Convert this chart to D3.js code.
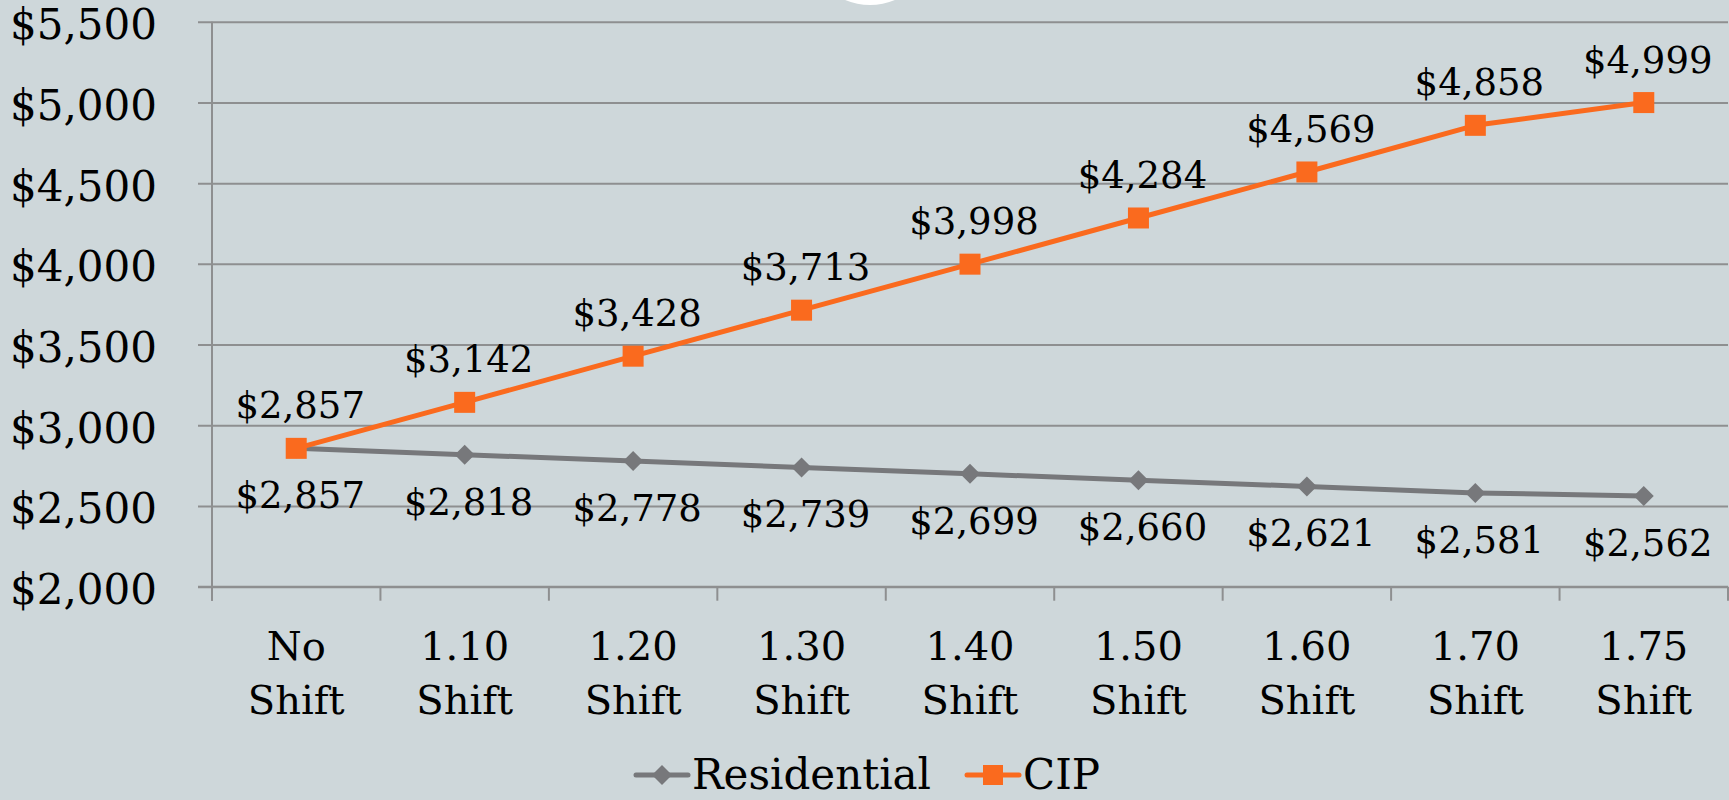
<!DOCTYPE html>
<html>
<head>
<meta charset="utf-8">
<script src="https://cdn.jsdelivr.net/npm/d3@7"></script>
<style>
  html, body { margin: 0; padding: 0; background: #CED7DA; }
  svg { display: block; }
  text { font-family: Georgia, "DejaVu Serif", serif; fill: #000; }
</style>
</head>
<body>
<svg id="chart" width="1729" height="800"></svg>
<script>
const categories = [["No", "Shift"], ["1.10", "Shift"], ["1.20", "Shift"], ["1.30", "Shift"], ["1.40", "Shift"], ["1.50", "Shift"], ["1.60", "Shift"], ["1.70", "Shift"], ["1.75", "Shift"]];
const residential = [2857, 2818, 2778, 2739, 2699, 2660, 2621, 2581, 2562];
const cip = [2857, 3142, 3428, 3713, 3998, 4284, 4569, 4858, 4999];
const yTicks = [2000, 2500, 3000, 3500, 4000, 4500, 5000, 5500];
const seriesNames = ["Residential", "CIP"];

const colors = { Residential: "#77787B", CIP: "#FA6A1E" };
const gridColor = "#8E8F90";

const svg = d3.select("#chart");
const pLeft = 212, pRight = 1728, pTop = 21.7, pBottom = 586.7;

const x = d3.scaleBand().domain(d3.range(categories.length)).range([pLeft, pRight]).padding(0);
const y = d3.scaleLinear().domain([2000, 5500]).range([pBottom, pTop]);
const cx = i => x(i) + x.bandwidth() / 2;
const fmt = v => "$" + d3.format(",")(v);

// white partial circle at top
svg.append("circle").attr("cx", 870).attr("cy", -60).attr("r", 65).attr("fill", "#FFFFFF");

// gridlines + y-axis ticks
const yAxis = d3.axisLeft(y).tickValues(yTicks).tickSize(-(pRight - pLeft)).tickFormat(fmt).tickPadding(0);
const gy = svg.append("g").attr("transform", `translate(${pLeft},0)`).call(yAxis);
gy.select(".domain").remove();
gy.selectAll(".tick line").attr("x1", -14).attr("stroke", gridColor).attr("stroke-width", 2);
gy.selectAll(".tick text")
  .attr("x", -(pLeft - 157)).attr("dy", null).attr("y", 17)
  .attr("text-anchor", "end").attr("fill", "#000").style("font-size", "42px")
  .style("font-family", 'Georgia, "DejaVu Serif", serif');

// vertical axis line
svg.append("line").attr("x1", pLeft).attr("x2", pLeft).attr("y1", pTop).attr("y2", pBottom + 14)
  .attr("stroke", gridColor).attr("stroke-width", 2);

// x axis with boundary ticks
svg.append("line").attr("x1", pLeft - 14).attr("x2", pRight).attr("y1", pBottom).attr("y2", pBottom)
  .attr("stroke", gridColor).attr("stroke-width", 2);
const boundaries = d3.range(categories.length + 1).map(i => pLeft + i * x.bandwidth());
svg.append("g").selectAll("line").data(boundaries).join("line")
  .attr("x1", d => d).attr("x2", d => d).attr("y1", pBottom).attr("y2", pBottom + 14)
  .attr("stroke", gridColor).attr("stroke-width", 2);

// x labels
const xl = svg.append("g").selectAll("text").data(categories).join("text")
  .attr("text-anchor", "middle").style("font-size", "40px");
xl.append("tspan").attr("x", (d, i) => cx(i)).attr("y", 660).text(d => d[0]);
xl.append("tspan").attr("x", (d, i) => cx(i)).attr("y", 714).text(d => d[1]);

const line = d3.line().x((d, i) => cx(i)).y(d => y(d));

// Residential
svg.append("path").datum(residential).attr("d", line)
  .attr("fill", "none").attr("stroke", colors.Residential).attr("stroke-width", 5).attr("stroke-linejoin", "round");
svg.append("g").selectAll("path").data(residential).join("path")
  .attr("d", d3.symbol().type(d3.symbolSquare).size(200))
  .attr("transform", (d, i) => `translate(${cx(i)},${y(d)}) rotate(45)`)
  .attr("fill", colors.Residential);

// CIP
svg.append("path").datum(cip).attr("d", line)
  .attr("fill", "none").attr("stroke", colors.CIP).attr("stroke-width", 5).attr("stroke-linejoin", "round");
svg.append("g").selectAll("rect").data(cip).join("rect")
  .attr("x", (d, i) => cx(i) - 10.5).attr("y", d => y(d) - 10.5)
  .attr("width", 21).attr("height", 21).attr("fill", colors.CIP);

// data labels
svg.append("g").selectAll("text").data(cip).join("text")
  .attr("x", (d, i) => cx(i) + 4).attr("y", d => y(d) - 30)
  .attr("text-anchor", "middle").style("font-size", "37px").text(fmt);
svg.append("g").selectAll("text").data(residential).join("text")
  .attr("x", (d, i) => cx(i) + 4).attr("y", d => y(d) + 60)
  .attr("text-anchor", "middle").style("font-size", "37px").text(fmt);

// legend
const lg = svg.append("g");
const ly = 775;
lg.append("line").attr("x1", 636).attr("x2", 688).attr("y1", ly).attr("y2", ly)
  .attr("stroke", colors.Residential).attr("stroke-width", 5).attr("stroke-linecap", "round");
lg.append("path").attr("d", d3.symbol().type(d3.symbolSquare).size(200))
  .attr("transform", `translate(662,${ly}) rotate(45)`).attr("fill", colors.Residential);
lg.append("text").attr("x", 692).attr("y", 789).style("font-size", "42px").text(seriesNames[0]);
lg.append("line").attr("x1", 967).attr("x2", 1019).attr("y1", ly).attr("y2", ly)
  .attr("stroke", colors.CIP).attr("stroke-width", 5).attr("stroke-linecap", "round");
lg.append("rect").attr("x", 983).attr("y", ly - 10).attr("width", 20).attr("height", 20).attr("fill", colors.CIP);
lg.append("text").attr("x", 1023).attr("y", 789).style("font-size", "42px").text(seriesNames[1]);
</script>
</body>
</html>
